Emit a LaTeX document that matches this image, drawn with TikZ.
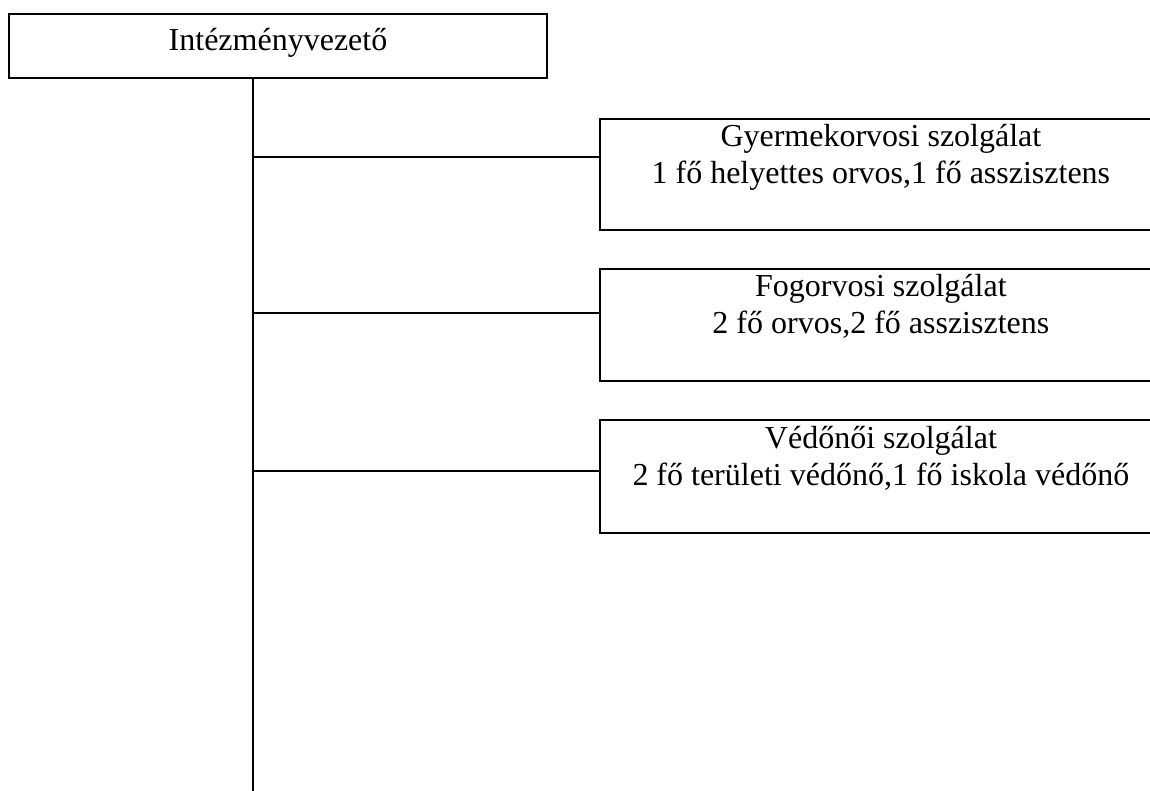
\documentclass[tikz,border=0pt]{standalone}
\usepackage{fontspec}
\setmainfont{Liberation Serif}
\usetikzlibrary{positioning}
\tikzset{
  unitbox/.style={draw, line width=1.8pt, inner sep=0pt},
  boxtext/.style={inner sep=0pt, align=center, font=\fontsize{32}{37}\selectfont},
}

\begin{document}
\begin{tikzpicture}[x=1pt, y=-1pt, line width=1.5pt]
  \useasboundingbox (0,0) rectangle (1150,791);
  \clip (0,0) rectangle (1150,791);
  % head of the institution
  \node[unitbox, minimum width=538pt, minimum height=64pt] (head) at (278,46) {};
  \node[boxtext, anchor=base] (headtext) at (278,51) {Intézményvezető};
  % the trunk
  \coordinate (trunkend) at (253,791);
  \draw (head.south -| trunkend) -- (trunkend);
  % loops over the 3 services
  \foreach \name/\ytop/\ybot/\yjoin/\titletext/\stafftext in {
      gyer/118/229/157/{Gyermekorvosi szolgálat}/{1 fő helyettes orvos,1 fő asszisztens},
      fog/268/380/313/{Fogorvosi szolgálat}/{2 fő orvos,2 fő asszisztens},
      ved/419/532/471/{Védőnői szolgálat}/{2 fő területi védőnő,1 fő iskola védőnő}}{
    \pgfmathsetmacro\boxh{\ybot-\ytop}
    \node[unitbox, minimum width=562pt, minimum height=\boxh pt, anchor=north west] (\name) at (599,\ytop) {};
    \node[boxtext, below=6pt of \name.north] (\name text) {\titletext\\\stafftext};
    \coordinate (\name join) at (253,\yjoin);
    \draw (\name join) -- (\name join -| \name.west);
  }
\end{tikzpicture}
\end{document}
